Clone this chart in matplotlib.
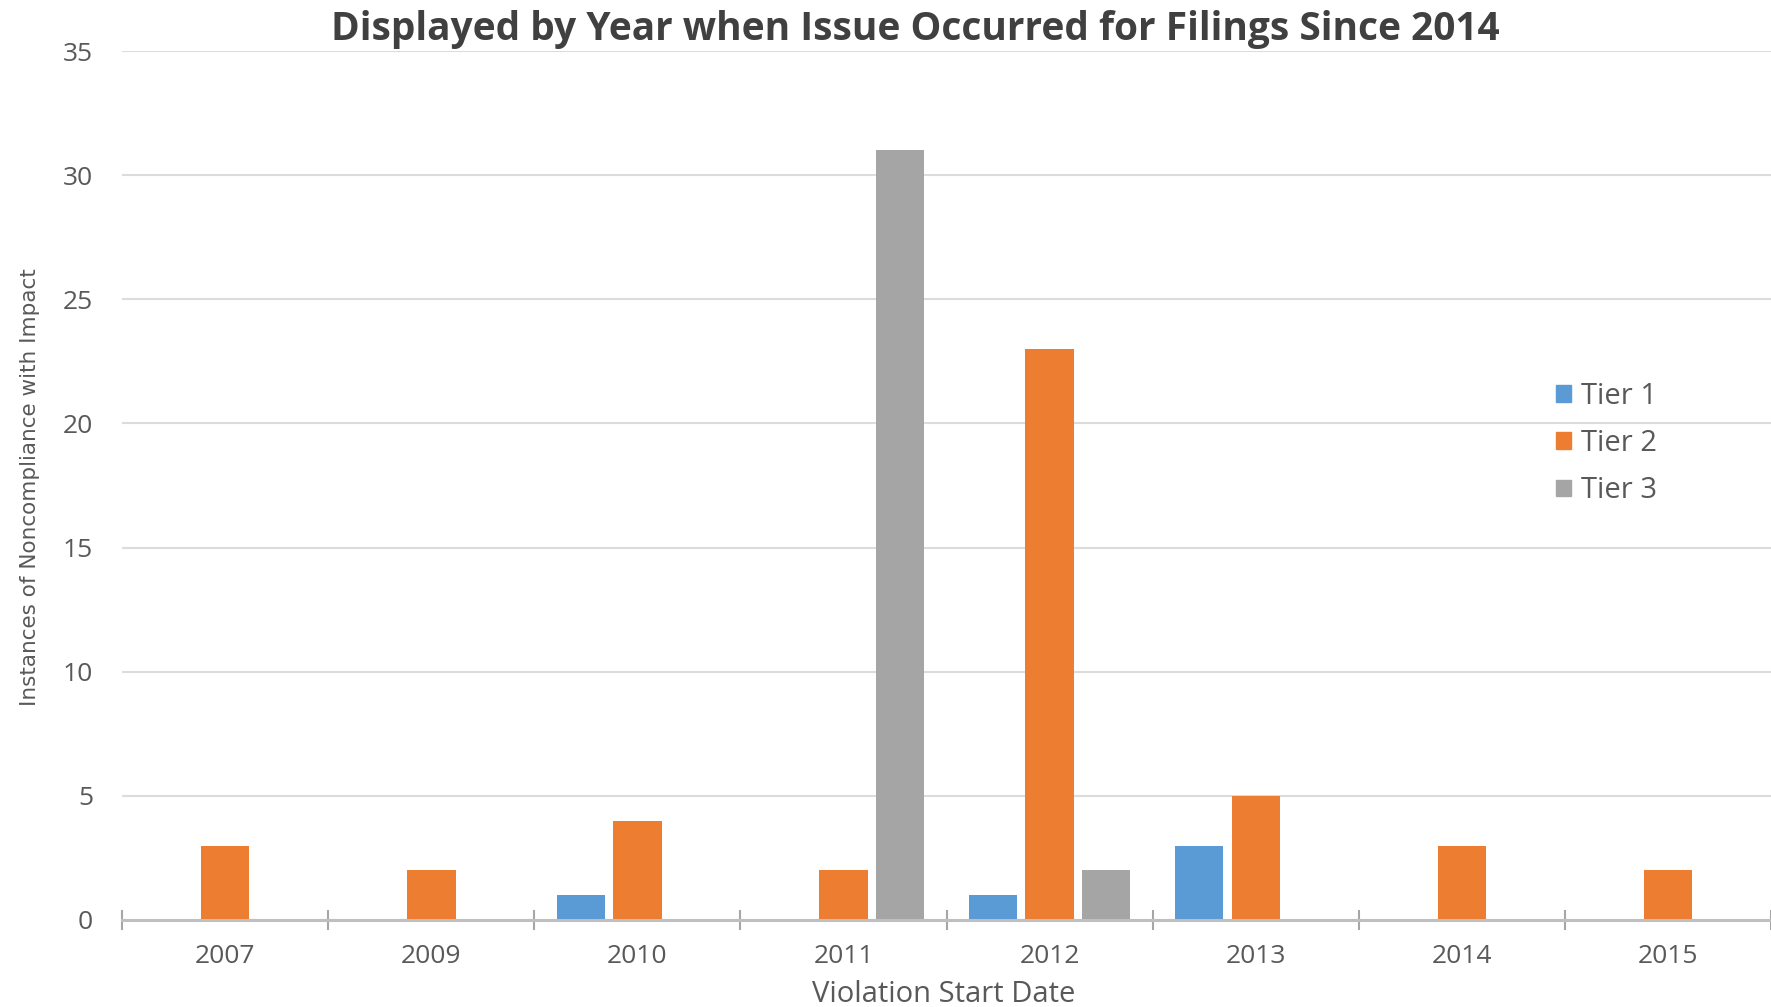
import matplotlib.pyplot as plt
from matplotlib.patches import Patch
import numpy as np

years = ["2007", "2009", "2010", "2011", "2012", "2013", "2014", "2015"]
tier1 = [0, 0, 1, 0, 1, 3, 0, 0]
tier2 = [3, 2, 4, 2, 23, 5, 3, 2]
tier3 = [0, 0, 0, 31, 2, 0, 0, 0]
series_names = ["Tier 1", "Tier 2", "Tier 3"]
colors = ["#5B9BD5", "#ED7D31", "#A5A5A5"]

title = "Displayed by Year when Issue Occurred for Filings Since 2014"
xlabel = "Violation Start Date"
ylabel = "Instances of Noncompliance with Impact"

fig = plt.figure(figsize=(17.71, 10.07), dpi=100)
ax = fig.add_axes([0.069, 0.0864, 0.931, 0.8629])

series = [tier1, tier2, tier3]
width = 0.235
step = 0.274
x = np.arange(len(years))

for s in range(3):
    ax.bar(x + (s - 1) * step, series[s], width=width, color=colors[s], zorder=3)

ax.set_xlim(-0.5, len(years) - 0.5)
ax.set_ylim(0, 35)
ax.set_yticks(np.arange(0, 36, 5))
ax.yaxis.grid(True, color="#DCDCDC", lw=1.5, zorder=0)
ax.set_axisbelow(True)

for sp in ["left", "right", "top"]:
    ax.spines[sp].set_visible(False)
ax.spines["bottom"].set_color("#BFBFBF")
ax.spines["bottom"].set_linewidth(2.2)
ax.spines["bottom"].set_zorder(4)

ax.set_xticks(x)
ax.set_xticklabels(years)
ax.set_xticks(np.arange(-0.5, len(years)), minor=True)
ax.tick_params(axis="x", which="major", length=0, pad=17, labelsize=19, labelcolor="#595959")
ax.tick_params(axis="x", which="minor", length=14, width=1.5, color="#A6A6A6", direction="inout")
ax.tick_params(axis="y", length=0, pad=21, labelsize=19, labelcolor="#595959")
for lab in ax.get_xticklabels() + ax.get_yticklabels():
    lab.set_family("Open Sans")

fig.text(0.5166, 0.971, title, ha="center", va="center", fontsize=28,
         fontweight="bold", color="#404040", family="Open Sans")
fig.text(0.533, 0.012, xlabel, ha="center", va="center", fontsize=21,
         color="#595959", family="Open Sans")
fig.text(0.017, 0.516, ylabel, ha="center", va="center", rotation=90, fontsize=15.5,
         color="#595959", family=["Liberation Sans Narrow", "DejaVu Sans"])

handles = [Patch(color=c, label=n) for c, n in zip(colors, series_names)]
leg = fig.legend(handles=handles, loc="center left", bbox_to_anchor=(0.864, 0.5595),
                 frameon=False, handlelength=0.5, handleheight=0.5, handletextpad=0.35,
                 labelspacing=0.62, prop={"family": "Open Sans", "size": 21})
for t in leg.get_texts():
    t.set_color("#595959")

fig.savefig("out.png", dpi=100, facecolor="white")
